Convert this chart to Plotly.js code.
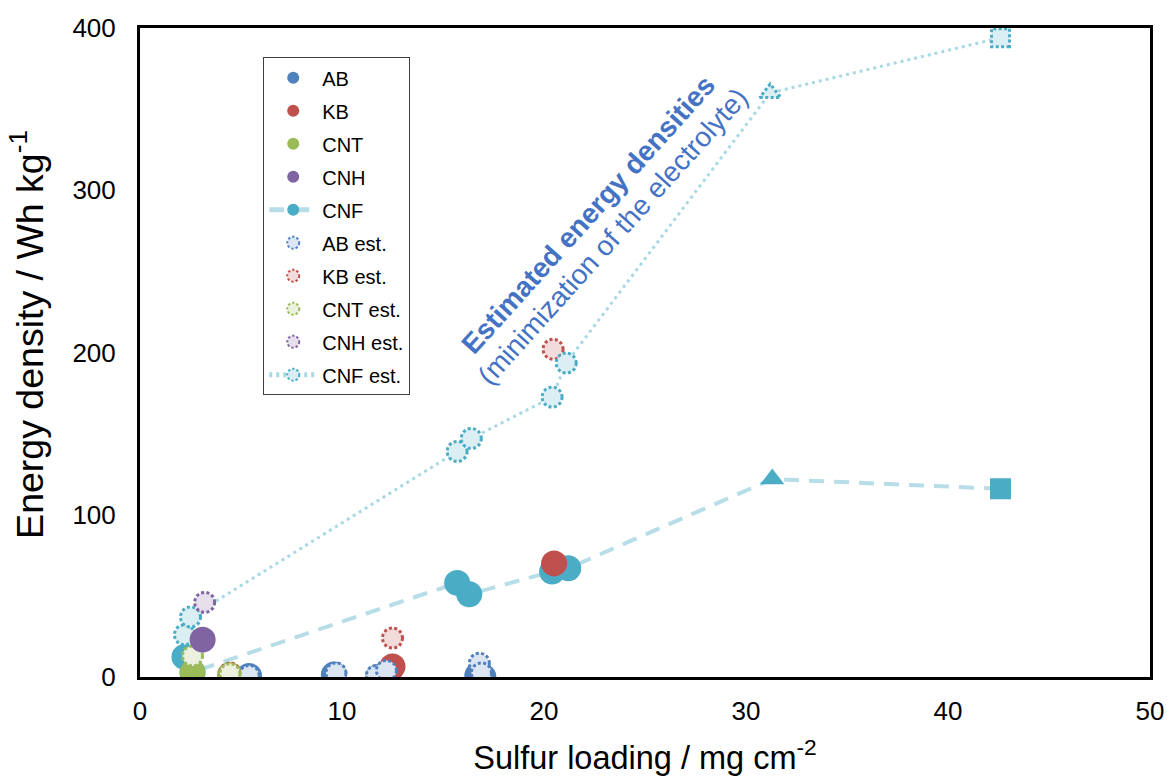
<!DOCTYPE html>
<html>
<head>
<meta charset="utf-8">
<script src="https://cdn.plot.ly/plotly-3.0.1.min.js"></script>
<style>html,body{margin:0;padding:0;background:#fff;}#chart{width:1167px;height:776px;}</style>
</head>
<body>
<div id="chart"></div>
<script>
// ---- data (sulfur loading mg/cm2, energy density Wh/kg) ----
const abX = [5.4, 9.6, 11.8, 12.3, 16.7, 17.0];
const abY = [0.6, 1.5, 0, 1, 1, 0];
const kbX = [12.5, 20.5];
const kbY = [6.5, 70];
const cntX = [2.6, 4.45];
const cntY = [2.5, 1.2];
const cnhX = [3.1];
const cnhY = [23];
const cnfX = [2.2, 2.6, 15.7, 16.3, 20.4, 21.2, 31.3, 42.6];
const cnfY = [12.4, 3, 58, 51, 65, 67, 122, 116];

const abEstX = [5.4, 9.7, 11.7, 12.2, 16.8, 16.9];
const abEstY = [1, 2.5, 1, 4, 8.5, 2.5];
const kbEstX = [4.45, 12.5, 20.45];
const kbEstY = [2.5, 24, 202];
const cntEstX = [2.6, 4.45];
const cntEstY = [13, 2];
const cnhEstX = [3.2];
const cnhEstY = [46];
const cnfEstX = [2.2, 2.5, 15.7, 16.4, 20.4, 21.1, 31.2, 42.6];
const cnfEstY = [26, 37, 139, 147, 172.5, 193.5, 360, 394];

const xTitle = 'Sulfur loading / mg cm<sup>-2</sup>';
const yTitle = 'Energy density / Wh kg<sup>-1</sup>';
const noteMain = '<b>Estimated energy densities</b>';
const noteSub = '(minimization of the electrolyte)';

// ---- styles ----
const C = {AB:'#4f81bd', KB:'#c0504d', CNT:'#9bbb59', CNH:'#8064a2', CNF:'#4bacc6'};
const F = {AB:'#dce6f2', KB:'#f2dcdb', CNT:'#ebf1de', CNH:'#e6e0ec', CNF:'#dbeef4'};
const SOLID = 26, EST = 20;

function solid(name, x, y, rank, extra) {
  return Object.assign({
    type:'scatter', mode:'markers', name:name, x:x, y:y,
    legendgroup:name, legendrank:rank,
    marker:{color:C[name], size:SOLID, opacity:1, line:{width:0}}
  }, extra||{});
}
function est(key, x, y, rank, extra) {
  return Object.assign({
    type:'scatter', mode:'markers', name:key+' est.', x:x, y:y,
    legendgroup:key+' est.', legendrank:rank,
    marker:{color:F[key], size:EST, opacity:1, line:{width:3, color:C[key]}}
  }, extra||{});
}

const cnfSym = cnfX.map((v,i)=> i===cnfX.length-2 ? 'triangle-up' : (i===cnfX.length-1 ? 'square' : 'circle'));
const cnfSize = cnfX.map((v,i)=> i>=cnfX.length-2 ? 21 : SOLID);
const cnfEstSym = cnfEstX.map((v,i)=> i===cnfEstX.length-2 ? 'triangle-up' : (i===cnfEstX.length-1 ? 'square' : 'circle'));
const cnfEstSize = cnfEstX.map((v,i)=> i>=cnfEstX.length-2 ? 18 : EST);

const traces = [
  solid('CNF', cnfX, cnfY, 5, {mode:'lines+markers',
     line:{color:'#b7dee8', width:4, dash:'15px,10px'},
     marker:{color:C.CNF, size:cnfSize, symbol:cnfSym, opacity:1, line:{width:0}}}),
  solid('AB', abX, abY, 1),
  solid('KB', kbX, kbY, 2),
  solid('CNT', cntX, cntY, 3),
  est('AB', abEstX, abEstY, 6),
  est('KB', kbEstX, kbEstY, 7),
  est('CNT', cntEstX, cntEstY, 8),
  est('CNF', cnfEstX, cnfEstY, 10, {mode:'lines+markers',
     line:{color:'#a8d8e4', width:3, dash:'3px,4px'},
     marker:{color:F.CNF, size:cnfEstSize, symbol:cnfEstSym, opacity:1, line:{width:3, color:C.CNF}}}),
  solid('CNH', cnhX, cnhY, 4),
  est('CNH', cnhEstX, cnhEstY, 9)
];

const FONT = 'Liberation Sans, Arial, sans-serif';
const layout = {
  width:1167, height:776,
  margin:{l:140, r:17, t:28, b:99},
  paper_bgcolor:'#ffffff', plot_bgcolor:'#ffffff',
  font:{family:FONT, color:'#000'},
  showlegend:true,
  legend:{x:0.122, y:0.955, xanchor:'left', yanchor:'top',
    bgcolor:'#ffffff', bordercolor:'#404040', borderwidth:1,
    font:{family:FONT, size:20, color:'#000'},
    traceorder:'grouped', tracegroupgap:4, itemsizing:'constant', itemwidth:48},
  xaxis:{range:[0,50], dtick:10, showgrid:false, zeroline:false,
    showline:true, mirror:true, linecolor:'#000', linewidth:3,
    ticks:'', ticklabelstandoff:9, tickfont:{family:FONT, size:26, color:'#000'},
    title:{text:xTitle, font:{family:FONT, size:32.5, color:'#000'}, standoff:22}},
  yaxis:{range:[0,400], dtick:100, showgrid:false, zeroline:false,
    showline:true, mirror:true, linecolor:'#000', linewidth:3,
    ticks:'', ticklabelstandoff:16, tickfont:{family:FONT, size:26, color:'#000'}},
  annotations:[
    {x:-0.112, y:0.5285, xref:'paper', yref:'paper', xanchor:'center', yanchor:'middle',
     showarrow:false, textangle:-90, text:yTitle,
     font:{family:FONT, size:37.5, color:'#000'}},
    {x:22.2, y:285, xref:'x', yref:'y', showarrow:false, textangle:-48,
     text:noteMain, font:{family:FONT, size:28, color:'#4472c4'}},
    {x:23.4, y:271.5, xref:'x', yref:'y', showarrow:false, textangle:-48,
     text:noteSub, font:{family:FONT, size:28, color:'#4472c4'}}
  ]
};

const gd = document.getElementById('chart');
Plotly.newPlot(gd, traces, layout, {displayModeBar:false, staticPlot:true}).then(function(){
  // dotted outlines on the "est." markers
  const groups = gd.querySelectorAll('.scatterlayer .trace');
  traces.forEach(function(t, i){
    if (t.name.indexOf('est.') >= 0 && groups[i]) {
      groups[i].querySelectorAll('path.point').forEach(function(p){
        p.style.strokeDasharray = '3,2.4';
      });
    }
  });
  gd.querySelectorAll('.legend .traces').forEach(function(g){
    const txt = g.querySelector('text.legendtext');
    if (txt && txt.textContent.indexOf('est.') >= 0) {
      g.querySelectorAll('.legendpoints path.scatterpts').forEach(function(p){
        p.style.strokeDasharray = '2.4,2';
      });
    }
  });
});
</script>
</body>
</html>
